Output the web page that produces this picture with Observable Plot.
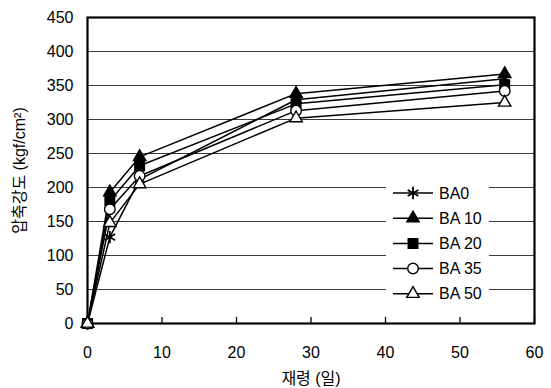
<!DOCTYPE html>
<html><head><meta charset="utf-8">
<script src="https://cdn.jsdelivr.net/npm/d3@7"></script>
<script src="https://cdn.jsdelivr.net/npm/@observablehq/plot@0.6"></script>
<style>
html,body{margin:0;padding:0;background:#fff;}
#wrap{position:relative;width:551px;height:388px;}
#legend{position:absolute;left:0;top:0;}
</style>
</head><body>
<div id="wrap"></div>
<script>
const days = [0, 3, 7, 28, 56];
const seriesNames = ["BA0", "BA 10", "BA 20", "BA 35", "BA 50"];
const BA0  = [0, 127, 212, 329, 360];
const BA10 = [0, 193, 245, 338, 367];
const BA20 = [0, 180, 232, 323, 351];
const BA35 = [0, 168, 217, 313, 342];
const BA50 = [0, 148, 205, 302, 325];
const xTicks = [0, 10, 20, 30, 40, 50, 60];
const yTicks = [0, 50, 100, 150, 200, 250, 300, 350, 400, 450];

const seriesValues = [BA0, BA10, BA20, BA35, BA50];
const symbols = ["asterisk", "triangle", "square", "circle", "triangle"];
const fills = ["black", "black", "black", "white", "white"];
const sizes = [5.8, 4.6, 5.4, 5.3, 4.6];

const rows = [];
seriesNames.forEach((s, i) => days.forEach((d, j) => rows.push({series: s, day: d, value: seriesValues[i][j], idx: i})));

const font = "'Liberation Sans', Arial, 'Noto Sans CJK KR', sans-serif";

const chart = Plot.plot({
  width: 551, height: 388,
  marginLeft: 87, marginRight: 17, marginTop: 17, marginBottom: 65,
  style: {fontFamily: font, fontSize: "16px", background: "white", color: "black", overflow: "visible"},
  x: {domain: [0, 60]},
  y: {domain: [0, 450]},
  marks: [
    Plot.gridY(yTicks, {stroke: "#222", strokeOpacity: 1, strokeWidth: 0.9}),
    Plot.ruleX(xTicks, {x: d => d, y1: 0, y2: 9, stroke: "black", strokeWidth: 1.3}),
    Plot.frame({stroke: "black", strokeWidth: 2.2}),
    Plot.axisX(xTicks, {tickSize: 0, tickPadding: 23, label: "재령 (일)", labelAnchor: "center", labelOffset: 60, labelArrow: "none", fontSize: 16}),
    Plot.axisY(yTicks, {tickSize: 0, tickPadding: 14, label: "압축강도 (kgf/cm²)", labelAnchor: "center", labelOffset: 74, labelArrow: "none", fontSize: 16}),
    Plot.line(rows, {x: "day", y: "value", z: "series", stroke: "black", strokeWidth: 1.5}),
    ...seriesNames.map((s, i) => Plot.dot(rows.filter(r => r.idx === i), {
      x: "day", y: "value", symbol: () => symbols[i], r: sizes[i],
      fill: fills[i], stroke: "black", strokeWidth: symbols[i] === "asterisk" ? 1.8 : 1.4
    }))
  ]
});
const wrap = document.getElementById("wrap");
wrap.appendChild(chart);

// legend overlay inside plot area
const lg = d3.select(wrap).append("svg").attr("id", "legend").attr("width", 551).attr("height", 388);
lg.append("rect").attr("x", 386).attr("y", 180).attr("width", 103).attr("height", 124).attr("fill", "white");
const symMap = {asterisk: d3.symbolAsterisk, triangle: d3.symbolTriangle, square: d3.symbolSquare, circle: d3.symbolCircle};
seriesNames.forEach((s, i) => {
  const y = 193 + i * 25.2;
  const g = lg.append("g").attr("transform", `translate(0,${y})`);
  g.append("line").attr("x1", 393).attr("x2", 433).attr("y1", 0).attr("y2", 0).attr("stroke", "black").attr("stroke-width", 1.5);
  g.append("path").attr("transform", "translate(413,0)")
    .attr("d", d3.symbol(symMap[symbols[i]], Math.PI * sizes[i] * sizes[i])())
    .attr("fill", fills[i]).attr("stroke", "black").attr("stroke-width", symbols[i] === "asterisk" ? 1.8 : 1.4);
  g.append("text").attr("x", 439).attr("y", 0).attr("dy", "0.35em").attr("font-family", font).attr("font-size", 16).text(s);
});
</script>
</body></html>
